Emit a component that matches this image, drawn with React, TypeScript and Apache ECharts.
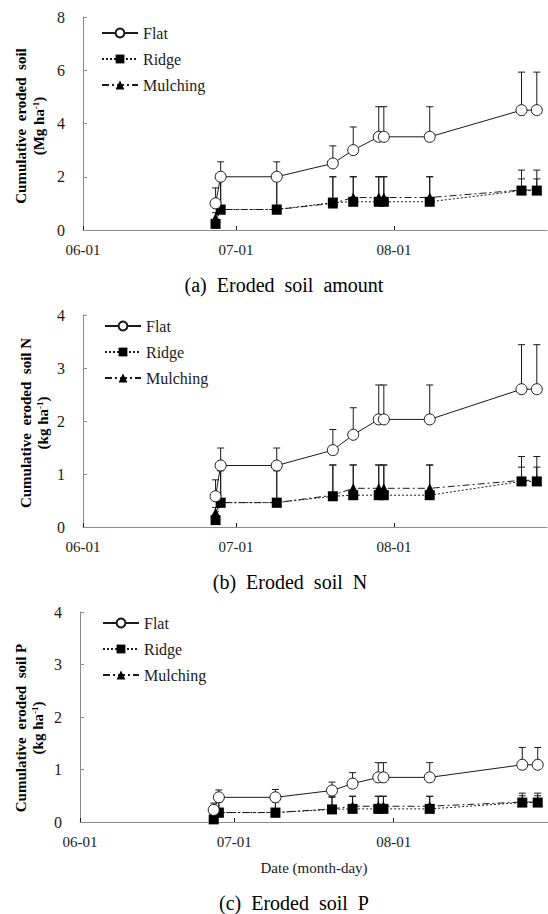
import React, { useEffect, useRef } from "react";
import * as echarts from "echarts";

// Sampling dates (month-day) shared by all three panels
const dates = ["06-27", "06-28", "07-09", "07-20", "07-24", "07-29", "07-30", "08-08", "08-26", "08-29"];
const seriesNames = ["Flat", "Ridge", "Mulching"];

// (a) cumulative eroded soil, Mg ha-1 (mean and upper error)
const flatA = [1.0, 2.0, 2.0, 2.5, 3.0, 3.5, 3.5, 3.5, 4.5, 4.5];
const flatAErr = [0.58, 0.56, 0.56, 0.66, 0.87, 1.13, 1.13, 1.13, 1.43, 1.43];
const ridgeA = [0.23, 0.77, 0.77, 1.03, 1.06, 1.06, 1.06, 1.06, 1.48, 1.48];
const ridgeAErr = [0.1, 1.18, 1.18, 0.97, 0.94, 0.94, 0.94, 0.94, 0.77, 0.77];
const mulchA = [0.45, 0.77, 0.77, 1.0, 1.22, 1.22, 1.22, 1.22, 1.5, 1.5];
const mulchAErr = [0.2, 1.18, 1.18, 1.0, 0.78, 0.78, 0.78, 0.78, 0.42, 0.42];

// (b) cumulative eroded soil N, kg ha-1
const flatB = [0.58, 1.16, 1.16, 1.45, 1.74, 2.03, 2.03, 2.03, 2.6, 2.6];
const flatBErr = [0.31, 0.33, 0.33, 0.39, 0.51, 0.65, 0.65, 0.65, 0.84, 0.84];
const ridgeB = [0.13, 0.46, 0.46, 0.58, 0.6, 0.6, 0.6, 0.6, 0.86, 0.86];
const ridgeBErr = [0.05, 0.62, 0.62, 0.59, 0.57, 0.57, 0.57, 0.57, 0.47, 0.47];
const mulchB = [0.27, 0.46, 0.46, 0.6, 0.73, 0.73, 0.73, 0.73, 0.88, 0.88];
const mulchBErr = [0.1, 0.6, 0.6, 0.57, 0.44, 0.44, 0.44, 0.44, 0.25, 0.25];

// (c) cumulative eroded soil P, kg ha-1
const flatC = [0.23, 0.47, 0.47, 0.6, 0.73, 0.85, 0.85, 0.85, 1.09, 1.09];
const flatCErr = [0.13, 0.14, 0.15, 0.16, 0.21, 0.28, 0.28, 0.28, 0.33, 0.33];
const ridgeC = [0.05, 0.18, 0.18, 0.24, 0.25, 0.25, 0.25, 0.25, 0.37, 0.37];
const ridgeCErr = [0.03, 0.22, 0.22, 0.25, 0.24, 0.24, 0.24, 0.24, 0.18, 0.18];
const mulchC = [0.12, 0.18, 0.18, 0.25, 0.3, 0.3, 0.3, 0.3, 0.38, 0.38];
const mulchCErr = [0.05, 0.2, 0.2, 0.22, 0.19, 0.19, 0.19, 0.19, 0.12, 0.12];

// Axis settings
const xStart = "06-01";
const xEnd = "08-31";
const yMaxA = 8;
const yStepA = 2;
const yMaxBC = 4;
const yStepBC = 1;

const captions = ["(a)  Eroded  soil  amount", "(b)  Eroded  soil  N", "(c)  Eroded  soil  P"];
const yTitles = ["Cumulative  eroded  soil", "Cumulative  eroded  soil N", "Cumulative  eroded  soil P"];
const yUnits = ["Mg", "kg", "kg"];
const xTitle = "Date (month-day)";

const YEAR = "2012";
const toTime = (md: string) => new Date(`${YEAR}-${md}T00:00:00`).getTime();

const FONT = "'Liberation Serif', 'Times New Roman', serif";
const INK = "#1a1a1a";
const AXIS = "#8c8c8c";

const panels = [
  {
    flat: flatA, flatErr: flatAErr, ridge: ridgeA, ridgeErr: ridgeAErr, mulch: mulchA, mulchErr: mulchAErr,
    yMax: yMaxA, yStep: yStepA,
    grid: { left: 83, top: 17, width: 464, height: 213 },
    legend: { left: 101, top: 25 },
    caption: { x: 284, y: 285 },
    title: { x1: 21, x2: 39, y: 126 },
  },
  {
    flat: flatB, flatErr: flatBErr, ridge: ridgeB, ridgeErr: ridgeBErr, mulch: mulchB, mulchErr: mulchBErr,
    yMax: yMaxBC, yStep: yStepBC,
    grid: { left: 83, top: 315, width: 464, height: 212 },
    legend: { left: 104, top: 318 },
    caption: { x: 290, y: 582 },
    title: { x1: 26, x2: 43, y: 423 },
  },
  {
    flat: flatC, flatErr: flatCErr, ridge: ridgeC, ridgeErr: ridgeCErr, mulch: mulchC, mulchErr: mulchCErr,
    yMax: yMaxBC, yStep: yStepBC,
    grid: { left: 80, top: 612, width: 476, height: 210 },
    legend: { left: 102, top: 615 },
    caption: { x: 294, y: 903 },
    title: { x1: 21, x2: 38, y: 728 },
  },
];

function errorBars(params: any, api: any) {
  const x = api.value(0);
  const y = api.value(1);
  const e = api.value(2);
  const p0 = api.coord([x, y]);
  const p1 = api.coord([x, y + e]);
  const style = { stroke: INK, lineWidth: 1 };
  return {
    type: "group",
    children: [
      { type: "line", shape: { x1: p0[0], y1: p0[1], x2: p1[0], y2: p1[1] }, style },
      { type: "line", shape: { x1: p1[0] - 3.5, y1: p1[1], x2: p1[0] + 3.5, y2: p1[1] }, style },
    ],
  };
}

function buildOption() {
  const grid: any[] = [];
  const xAxis: any[] = [];
  const yAxis: any[] = [];
  const series: any[] = [];
  const legend: any[] = [];
  const graphic: any[] = [];

  panels.forEach((p, i) => {
    grid.push({ ...p.grid, containLabel: false });
    xAxis.push({
      type: "time",
      gridIndex: i,
      min: toTime(xStart),
      max: toTime(xEnd),
      splitNumber: 3,
      minInterval: 28 * 86400000,
      axisLine: { lineStyle: { color: AXIS, width: 1 } },
      axisTick: { inside: true, length: 4, lineStyle: { color: INK } },
      splitLine: { show: false },
      axisLabel: {
        formatter: "{MM}-{dd}",
        showMinLabel: true,
        showMaxLabel: false,
        margin: 12,
        fontFamily: FONT,
        fontSize: 15,
        color: INK,
      },
      ...(i === 2
        ? {
            name: xTitle,
            nameLocation: "middle",
            nameGap: 38,
            nameTextStyle: { fontFamily: FONT, fontSize: 15, color: INK },
          }
        : {}),
    });
    yAxis.push({
      type: "value",
      gridIndex: i,
      min: 0,
      max: p.yMax,
      interval: p.yStep,
      axisLine: { show: true, lineStyle: { color: AXIS, width: 1 } },
      axisTick: { show: true, inside: true, length: 4, lineStyle: { color: AXIS } },
      splitLine: { show: false },
      axisLabel: { margin: 18, fontFamily: FONT, fontSize: 16, color: INK },
    });

    const pts = (vals: number[]) => dates.map((d, k) => [toTime(d), vals[k]]);
    const errs = (vals: number[], err: number[]) => dates.map((d, k) => [toTime(d), vals[k], err[k]]);

    const errSeries = (vals: number[], err: number[]) => ({
      type: "custom",
      xAxisIndex: i,
      yAxisIndex: i,
      renderItem: errorBars,
      encode: { x: 0, y: 1 },
      data: errs(vals, err),
      z: 1,
      silent: true,
    });
    series.push(errSeries(p.mulch, p.mulchErr));
    series.push(errSeries(p.ridge, p.ridgeErr));
    series.push(errSeries(p.flat, p.flatErr));

    series.push({
      name: "Mulching",
      type: "line",
      xAxisIndex: i,
      yAxisIndex: i,
      data: pts(p.mulch),
      symbol: "triangle",
      symbolSize: 10,
      itemStyle: { color: "#000" },
      lineStyle: { color: INK, width: 1, type: [7, 3, 2, 3] },
      z: 3,
    });
    series.push({
      name: "Ridge",
      type: "line",
      xAxisIndex: i,
      yAxisIndex: i,
      data: pts(p.ridge),
      symbol: "rect",
      symbolSize: 10,
      itemStyle: { color: "#000" },
      lineStyle: { color: INK, width: 1, type: [2, 2] },
      z: 4,
    });
    series.push({
      name: "Flat",
      type: "line",
      xAxisIndex: i,
      yAxisIndex: i,
      data: pts(p.flat),
      symbol: "circle",
      symbolSize: 11,
      itemStyle: { color: "#fff", borderColor: INK, borderWidth: 1 },
      lineStyle: { color: INK, width: 1, type: "solid" },
      z: 5,
    });

    legend.push({
      orient: "vertical",
      left: p.legend.left,
      top: p.legend.top,
      padding: 0,
      itemWidth: 36,
      itemHeight: 11,
      itemGap: 10,
      selectedMode: false,
      textStyle: { fontFamily: FONT, fontSize: 16, color: INK, padding: [0, 0, 0, 0] },
      data: seriesNames,
    });

    graphic.push({
      type: "text",
      x: p.caption.x,
      y: p.caption.y,
      style: {
        text: captions[i],
        fontFamily: FONT,
        fontSize: 20,
        fill: "#000",
        align: "center",
        verticalAlign: "middle",
      },
    });
    graphic.push({
      type: "text",
      x: p.title.x1,
      y: p.title.y,
      rotation: Math.PI / 2,
      style: {
        text: yTitles[i],
        fontFamily: FONT,
        fontWeight: "bold",
        fontSize: 15,
        fill: "#000",
        align: "center",
        verticalAlign: "middle",
      },
    });
    graphic.push({
      type: "text",
      x: p.title.x2,
      y: p.title.y,
      rotation: Math.PI / 2,
      style: {
        text: `(${yUnits[i]} ha{sup|-1})`,
        fontFamily: FONT,
        fontWeight: "bold",
        fontSize: 15,
        fill: "#000",
        align: "center",
        verticalAlign: "middle",
        rich: {
          sup: { fontFamily: FONT, fontWeight: "bold", fontSize: 9, verticalAlign: "top", fill: "#000", padding: [0, 0, 6, 0] },
        },
      },
    });
  });

  return {
    animation: false,
    backgroundColor: "#fff",
    grid,
    xAxis,
    yAxis,
    legend,
    series,
    graphic,
  };
}

export default function App() {
  const ref = useRef<HTMLDivElement>(null);
  useEffect(() => {
    document.body.style.margin = "0";
    if (!ref.current) return;
    const chart = echarts.init(ref.current, null, { renderer: "svg" });
    chart.setOption(buildOption() as any);
    return () => chart.dispose();
  }, []);
  return <div ref={ref} style={{ width: 548, height: 914, overflow: "hidden" }} />;
}
